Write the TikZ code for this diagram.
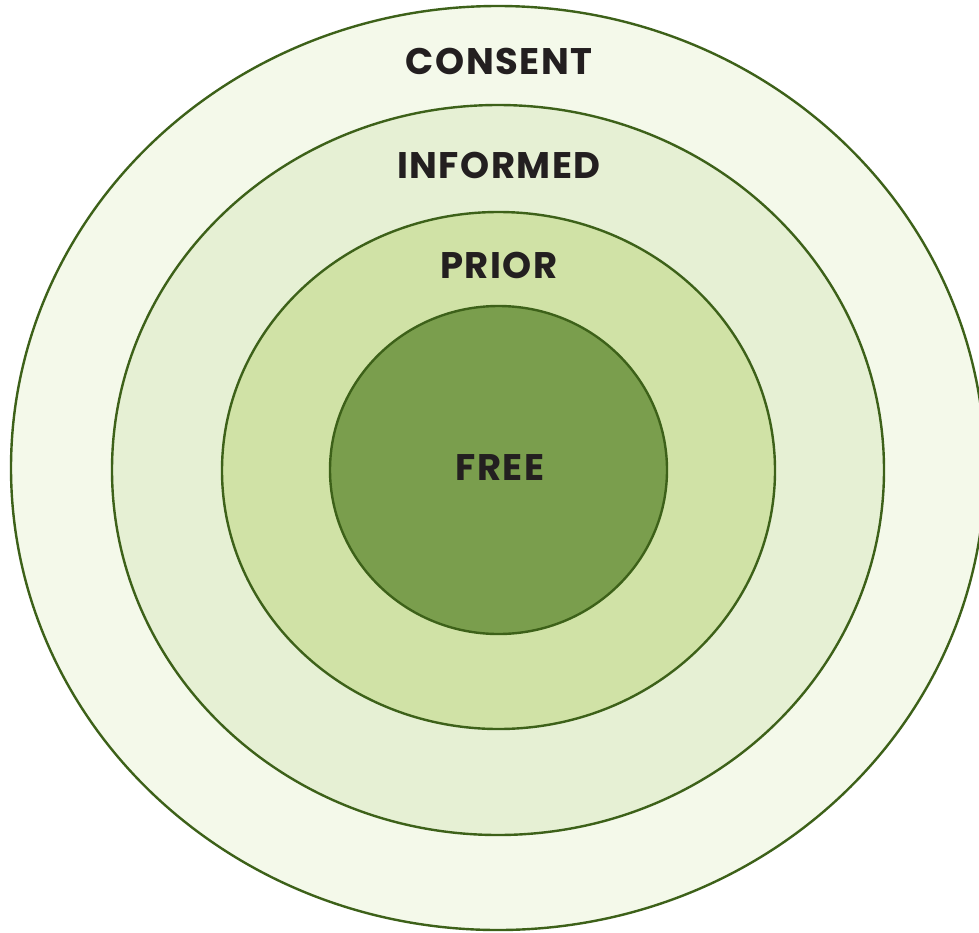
\documentclass[tikz,border=0pt]{standalone}
\usepackage{fontspec}
\setmainfont{Poppins}
\newfontfamily\lblfont[LetterSpace=4]{Poppins}
\begin{document}
\begin{tikzpicture}[x=1pt,y=-1pt,
  ring/.style={draw=ringline,line width=2.4pt},
  lbl/.style={font=\lblfont\fontsize{37}{40}\selectfont\bfseries,text=labeltext,inner sep=0pt}]
\definecolor{ringline}{HTML}{3D6119}
\definecolor{labeltext}{HTML}{231F20}
\definecolor{c1}{HTML}{F4F9EA}
\definecolor{c2}{HTML}{E6F0D4}
\definecolor{c3}{HTML}{D0E2A6}
\definecolor{c4}{HTML}{7A9E4D}
\useasboundingbox (0,0) rectangle (979,932);
\clip (0,0) rectangle (979,932);
\fill[white] (0,0) rectangle (979,932);
\draw[ring,fill=c1] (498,468) ellipse [x radius=487,y radius=462];
\draw[ring,fill=c2] (498,470) ellipse [x radius=386,y radius=365];
\draw[ring,fill=c3] (498.5,470.5) ellipse [x radius=276.5,y radius=258.5];
\draw[ring,fill=c4] (498.5,470) ellipse [x radius=168.5,y radius=164];
\node[lbl] (consent) at (499,61) {CONSENT};
\node[lbl] (informed) at (499,165) {INFORMED};
\node[lbl] (prior) at (499,265) {PRIOR};
\node[lbl] (free) at (500,468) {FREE};
\end{tikzpicture}
\end{document}
